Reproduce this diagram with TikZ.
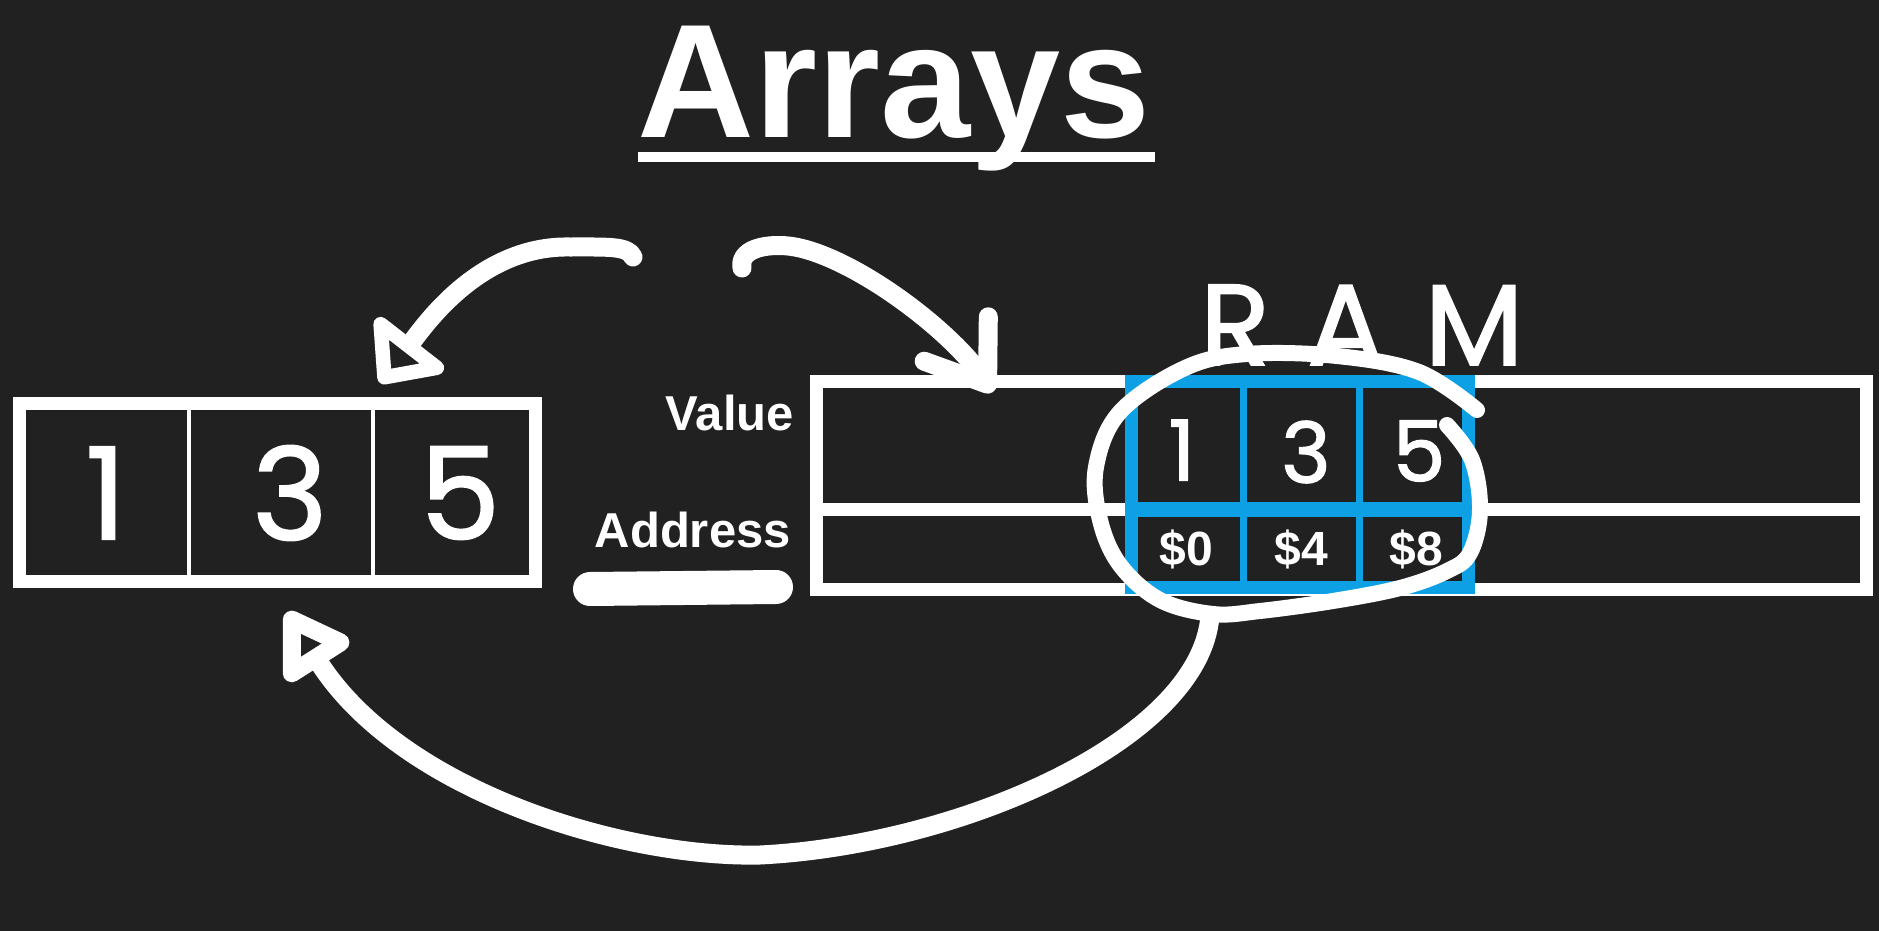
\documentclass[tikz,border=0pt]{standalone}
\usepackage{fontspec}
\setmainfont{Liberation Sans}
\newfontfamily\handfont{Poppins}[FakeBold=1.5]
\usetikzlibrary{arrows.meta}
\definecolor{bg}{RGB}{33,33,33}
\definecolor{ramblue}{RGB}{14,160,228}
\tikzset{
  hand/.style={white, line width=19pt, line cap=round, line join=round},
  boxline/.style={white, line width=13pt},
  divider/.style={white, line width=4pt},
  bigdigit/.style={text=white, inner sep=0pt, font=\handfont\fontsize{128}{128}\selectfont},
  ramdigit/.style={text=white, inner sep=0pt, font=\handfont\fontsize{84}{84}\selectfont},
  addr/.style={text=white, inner sep=0pt, font=\bfseries\fontsize{48}{48}\selectfont},
  rowlabel/.style={text=white, inner sep=0pt, anchor=base east, font=\bfseries\fontsize{49}{49}\selectfont},
}
\begin{document}
\begin{tikzpicture}[x=1pt,y=-1pt]
\fill[bg] (0,0) rectangle (1879,931);
\useasboundingbox (0,0) rectangle (1879,931);

% title
\node[anchor=base, text=white, inner sep=0pt, font=\bfseries\fontsize{162}{162}\selectfont] (title) at (894.5,138) {Arrays};
\draw[white, line width=9pt] (638,157) -- (1155,157);

% left array
\draw[boxline] (19.5,403.5) rectangle (535.5,581.5);
\draw[divider] (189,410) -- (189,575) (373,410) -- (373,575);
\node[bigdigit] (a1) at (106,493) {1};
\node[bigdigit] (a3) at (290,493) {3};
\node[bigdigit] (a5) at (460,493) {5};

% RAM table
\draw[boxline] (816.5,381.5) rectangle (1866,589.5);
\draw[boxline] (816.5,509) -- (1866,509);
\draw[ramblue, line width=13pt] (1131.5,381.5) rectangle (1468,587.5);
\draw[ramblue, line width=15pt] (1131.5,509.5) -- (1468,509.5);
\draw[ramblue, line width=7pt] (1243.5,381.5) -- (1243.5,587.5) (1359.5,381.5) -- (1359.5,587.5);
\node[ramdigit] (r1) at (1182,450) {1};
\node[ramdigit] (r3) at (1306,452) {3};
\node[ramdigit] (r5) at (1419,451) {5};
\node[addr] (d0) at (1186,549) {\$0};
\node[addr] (d4) at (1301,549) {\$4};
\node[addr] (d8) at (1416,549) {\$8};

% row labels
\node[rowlabel] (value) at (794,430) {Value};
\node[rowlabel] (address) at (791,547) {Address};
\draw[white, line width=34pt, line cap=round] (590,589) -- (776,587);

% RAM handwritten
\node[anchor=base west, text=white, inner sep=0pt, font=\handfont\fontsize{115}{115}\selectfont] (ram) at (1200,365) {R\hspace{37pt}A\hspace{40pt}M};

% loop around the blue cells
\draw[hand, line width=16pt] plot[smooth, tension=0.6] coordinates {(1447,425) (1472,460) (1480,510) (1470,553) (1447,571) (1400,588) (1333,601) (1260,611) (1213,614) (1160,600) (1120,565) (1100,520) (1096,467) (1120,412) (1185,368) (1247,354) (1337,356) (1419,372) (1477,410)};

% arrows
\coordinate (s1) at (633,257);
\coordinate (t1) at (380,383);
\draw[hand, -{Triangle[open, length=58pt, width=100pt, round]}] (s1) .. controls (628,246) and (610,247) .. (570,247) .. controls (480,245) and (425,325) .. (t1);

\coordinate (s2) at (742,268);
\coordinate (t2) at (993,392);
\draw[hand, -{Straight Barb[length=55pt, width=78pt, round]}] (s2) .. controls (738,246) and (775,242) .. (800,248) .. controls (860,262) and (950,330) .. (t2);

\coordinate (s3) at (1210,616);
\coordinate (t3) at (287,612);
\draw[hand, -{Triangle[open, length=72pt, width=85pt, round]}] (s3) .. controls (1200,740) and (960,845) .. (760,855) .. controls (620,858) and (400,790) .. (t3);
\end{tikzpicture}
\end{document}
